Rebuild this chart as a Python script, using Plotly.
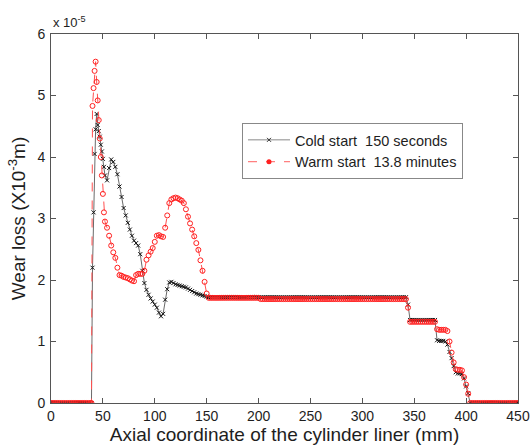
import plotly.graph_objects as go

# Axial coordinate sampling grid (mm)
x_mm = list(range(0, 40, 2)) + list(range(39, 53)) + list(range(54, 451, 2))

# Cold start 150 seconds (units of 1e-5)
cold = [
    0, 0, 0, 0, 0, 0, 0, 0, 0, 0,
    0, 0, 0, 0, 0, 0, 0, 0, 0, 0,
    # 39..52
    0, 2.2, 3.1, 4.05, 4.45, 4.7, 4.52, 4.42, 4.33, 4.2, 4.09, 3.97, 3.84, 3.7,
    # 54..150
    3.62, 3.82, 3.96, 3.92, 3.84, 3.72, 3.52, 3.35, 3.17, 3.05,
    2.93, 2.82, 2.72, 2.64, 2.6, 2.56, 2.42, 2.15, 1.95, 1.84,
    1.76, 1.7, 1.65, 1.6, 1.55, 1.47, 1.41, 1.45, 1.68, 1.85,
    1.96, 1.97, 1.95, 1.93, 1.92, 1.91, 1.9, 1.89, 1.88, 1.86,
    1.84, 1.82, 1.8, 1.78, 1.77, 1.76, 1.75, 1.74, 1.73,
    # 152..342
    1.72, 1.72, 1.72, 1.72, 1.72, 1.72, 1.72, 1.72, 1.72, 1.72,
    1.72, 1.72, 1.72, 1.72, 1.72, 1.72, 1.72, 1.72, 1.72, 1.72,
    1.72, 1.72, 1.72, 1.72, 1.72, 1.72, 1.72, 1.72, 1.72, 1.72,
    1.72, 1.72, 1.72, 1.72, 1.72, 1.72, 1.72, 1.72, 1.72, 1.72,
    1.72, 1.72, 1.72, 1.72, 1.72, 1.72, 1.72, 1.72, 1.72, 1.72,
    1.72, 1.72, 1.72, 1.72, 1.72, 1.72, 1.72, 1.72, 1.72, 1.72,
    1.72, 1.72, 1.72, 1.72, 1.72, 1.72, 1.72, 1.72, 1.72, 1.72,
    1.72, 1.72, 1.72, 1.72, 1.72, 1.72, 1.72, 1.72, 1.72, 1.72,
    1.72, 1.72, 1.72, 1.72, 1.72, 1.72, 1.72, 1.72, 1.72, 1.72,
    1.72, 1.72, 1.72, 1.72, 1.72, 1.72,
    # 344..450
    1.6, 1.35, 1.35, 1.35, 1.35, 1.35, 1.35, 1.35, 1.35, 1.35,
    1.35, 1.35, 1.35, 1.35,
    1.02, 1.01, 1.01, 1.01, 1.0, 0.95, 0.83, 0.73, 0.6, 0.5,
    0.48, 0.48, 0.47, 0.4, 0.27, 0.16,
    0, 0, 0, 0, 0, 0, 0, 0, 0, 0,
    0, 0, 0, 0, 0, 0, 0, 0, 0, 0,
    0, 0, 0, 0,
]

# Warm start 13.8 minutes (units of 1e-5)
warm = [
    0, 0, 0, 0, 0, 0, 0, 0, 0, 0,
    0, 0, 0, 0, 0, 0, 0, 0, 0, 0,
    # 39..52
    0, 4.83, 5.12, 5.4, 5.55, 5.22, 4.92, 4.6, 4.3, 4.0, 3.7, 3.4, 3.1, 2.95,
    # 54..150
    2.85, 2.72, 2.56, 2.45, 2.36, 2.2, 2.08, 2.07, 2.05, 2.04,
    2.03, 2.01, 1.99, 1.98, 2.08, 2.1, 2.1, 2.1, 2.15, 2.33,
    2.4, 2.46, 2.52, 2.62, 2.72, 2.73, 2.71, 2.7, 2.85, 3.05,
    3.25, 3.31, 3.33, 3.34, 3.33, 3.31, 3.29, 3.25, 3.15, 3.03,
    2.92, 2.82, 2.71, 2.6, 2.49, 2.32, 2.15, 1.97, 1.78,
    # 152..342
    1.71, 1.71, 1.71, 1.71, 1.71, 1.71, 1.71, 1.71, 1.71, 1.71,
    1.71, 1.71, 1.71, 1.71, 1.71, 1.71, 1.71, 1.71, 1.71, 1.71,
    1.71, 1.71, 1.71, 1.71, 1.71,
    1.69, 1.69, 1.69, 1.69, 1.69, 1.69, 1.69, 1.69, 1.69, 1.69,
    1.69, 1.69, 1.69, 1.69, 1.69, 1.69, 1.69, 1.69, 1.69, 1.69,
    1.69, 1.69, 1.69, 1.69, 1.69, 1.69, 1.69, 1.69, 1.69, 1.69,
    1.69, 1.69, 1.69, 1.69, 1.69, 1.69, 1.69, 1.69, 1.69, 1.69,
    1.69, 1.69, 1.69, 1.69, 1.69, 1.69, 1.69, 1.69, 1.69, 1.69,
    1.69, 1.69, 1.69, 1.69, 1.69, 1.69, 1.69, 1.69, 1.69, 1.69,
    1.69, 1.69, 1.69, 1.69, 1.69, 1.69, 1.69, 1.69, 1.69, 1.69,
    1.69,
    # 344..450
    1.55, 1.32, 1.32, 1.32, 1.32, 1.32, 1.32, 1.32, 1.32, 1.32,
    1.32, 1.32, 1.32, 1.32,
    1.2, 1.19, 1.19, 1.19, 1.19, 1.17, 1.0, 0.82, 0.66, 0.55,
    0.54, 0.54, 0.53, 0.42, 0.3, 0.15,
    0, 0, 0, 0, 0, 0, 0, 0, 0, 0,
    0, 0, 0, 0, 0, 0, 0, 0, 0, 0,
    0, 0, 0, 0,
]

x_ticks = [0, 50, 100, 150, 200, 250, 300, 350, 400, 450]
y_ticks = [0, 1, 2, 3, 4, 5, 6]
legend_names = ["Cold start\u00a0\u00a0150 seconds", "Warm start\u00a0\u00a013.8 minutes"]

FONT = "Arial, 'Liberation Sans', sans-serif"
TXT = "#1e1e1e"

fig = go.Figure()

fig.add_trace(go.Scatter(
    x=x_mm, y=cold, mode="lines+markers", showlegend=False,
    line=dict(color="#6a6a6a", width=1),
    marker=dict(symbol="x-thin", size=4, color="#111111",
                line=dict(color="#111111", width=1)),
))
fig.add_trace(go.Scatter(
    x=x_mm, y=warm, mode="lines+markers", showlegend=False,
    line=dict(color="#ff5050", width=1, dash="dash"),
    marker=dict(symbol="circle-open", size=5, color="#ff2020",
                line=dict(color="#ff2020", width=1)),
))
# legend entries
fig.add_trace(go.Scatter(
    x=[None], y=[None], mode="lines+markers", name=legend_names[0],
    line=dict(color="#888888", width=1),
    marker=dict(symbol="x-thin", size=4, color="#333333",
                line=dict(color="#333333", width=1)),
))
fig.add_trace(go.Scatter(
    x=[None], y=[None], mode="lines+markers", name=legend_names[1],
    line=dict(color="#ff6060", width=1, dash="dash"),
    marker=dict(symbol="circle", size=5, color="#ff2020"),
))

axis_common = dict(
    showline=True, linecolor="#555555", linewidth=1, mirror="ticks",
    ticks="inside", ticklen=5, tickcolor="#555555", showgrid=False,
    zeroline=False, tickfont=dict(family=FONT, size=14, color=TXT),
)

fig.update_layout(
    width=531, height=448,
    margin=dict(l=51, r=13, t=34, b=45, autoexpand=False),
    paper_bgcolor="white", plot_bgcolor="white",
    font=dict(family=FONT, color=TXT),
    xaxis=dict(range=[0, 450], tickvals=x_ticks, ticktext=[str(v) for v in x_ticks],
               ticklabelstandoff=0,
               title=dict(text="Axial coordinate of the cylinder liner (mm)",
                          font=dict(family=FONT, size=19, color=TXT), standoff=0),
               automargin=False, **axis_common),
    yaxis=dict(range=[0, 6], tickvals=y_ticks, ticktext=[str(v) for v in y_ticks],
               ticklabelstandoff=2,
               title=dict(text="Wear loss (X10<sup>-3</sup>m)",
                          font=dict(family=FONT, size=19, color=TXT), standoff=6),
               automargin=False, **axis_common),
    legend=dict(x=0.409, y=0.759, xanchor="left", yanchor="top",
                bgcolor="white", bordercolor="#888888", borderwidth=1,
                font=dict(family=FONT, size=14.5, color=TXT),
                itemwidth=42, tracegroupgap=0),
    annotations=[dict(text="x 10<sup>-5</sup>", xref="paper", yref="paper",
                      x=0.0, y=1.0, xanchor="left", yanchor="bottom", yshift=2,
                      showarrow=False, font=dict(family=FONT, size=13, color=TXT))],
)

fig.write_html("out.html")
